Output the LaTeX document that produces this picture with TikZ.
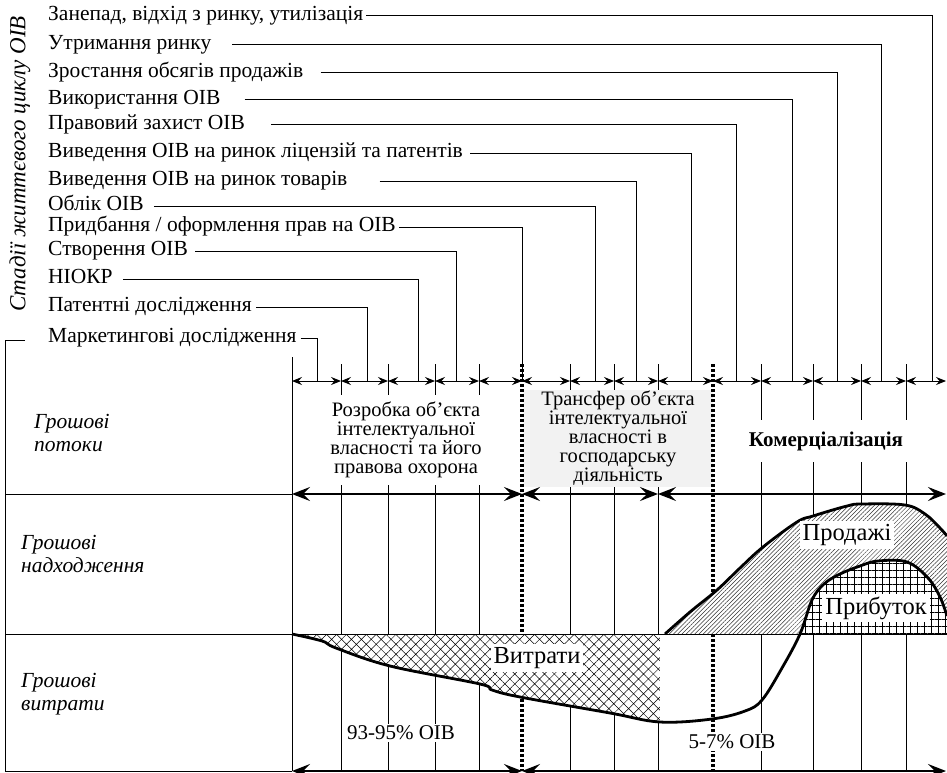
\documentclass[tikz,border=0pt]{standalone}
\usepackage{fontspec}
\setmainfont{Liberation Serif}
\usetikzlibrary{arrows.meta,patterns.meta}

\begin{document}
\begin{tikzpicture}[x=1pt,y=-1pt,
  grid/.style={line width=1pt},
  stage/.style={anchor=west,inner sep=0pt,text height=14pt,text depth=4.5pt,font=\fontsize{21.5}{24}\selectfont},
  rowlbl/.style={anchor=west,align=left,inner sep=0pt,font=\fontsize{21.5}{23}\selectfont\itshape},
  phase/.style={align=center,inner sep=0pt,font=\fontsize{20.5}{19}\selectfont},
  tag/.style={fill=white,inner sep=3pt,font=\fontsize{24.5}{27}\selectfont},
  share/.style={fill=white,inner sep=2pt,font=\fontsize{21}{23}\selectfont},
  dimsmall/.style={line width=1pt,<->,>={Stealth[length=10pt,width=8pt,inset=3.5pt]}},
  dimbig/.style={line width=1.5pt,<->,>={Stealth[length=18pt,width=14pt,inset=7pt]}},
  divider/.style={line width=3.2pt,dash pattern=on 3pt off 2pt},
  curve/.style={line width=2.8pt,line join=round},
  costfill/.style={preaction={fill=white},pattern={Hatch[angle=45,distance=7pt,line width=0.5pt]}},
  salesfill/.style={preaction={fill=white},pattern={Lines[angle=45,distance=3pt,line width=0.5pt]},pattern color=black!80},
  profitfill/.style={preaction={fill=white},pattern={Hatch[angle=0,distance=7pt,line width=0.6pt]}}]
\useasboundingbox (0,0) rectangle (947,773);

\node[rotate=90,inner sep=0pt,font=\fontsize{23}{25}\selectfont\itshape] (stages) at (20,164) {Стадії життєвого циклу ОІВ};

\foreach \n/\t/\y/\x/\g in {
  z/{Занепад, відхід з ринку, утилізація}/16/932/3,
  u/{Утримання ринку}/45/881/21,
  zr/{Зростання обсягів продажів}/73/837/17,
  vk/{Використання ОІВ}/100/792/24,
  pz/{Правовий захист ОІВ}/125/736/26,
  vl/{Виведення ОІВ на ринок ліцензій та патентів}/153/691/7,
  vt/{Виведення ОІВ на ринок товарів}/181/636/32,
  ob/{Облік ОІВ}/206/595/10,
  pr/{Придбання / оформлення прав на ОІВ}/227/522/3,
  st/{Створення ОІВ}/251/456/7,
  ni/{НІОКР}/279/418/10,
  pt/{Патентні дослідження}/307/367/4,
  mk/{Маркетингові дослідження}/338/317/4}{
  \node[stage] (\n) at (48,\y) {\t};
  \coordinate (c\n) at (\x,381);
  \draw[grid] ([xshift=\g pt]\n.east) -| (c\n);
}

\foreach \x in {341,388,435,479,570,614,658,761,813,861,906}
  \draw[grid] (\x,364) -- (\x,771);
\draw[grid] (292,357) -- (292,771);
\draw[grid] (25,340) -- (5,340) -- (5,771) -- (292,771);
\draw[grid] (5,494) -- (292,494);

\node[phase,fill=white,minimum width=215,minimum height=90] (dev) at (406,440)
  {Розробка об’єкта\\інтелектуальної\\власності та його\\правова охорона};
\node[phase,fill=gray!10,minimum width=190,minimum height=97] (trans) at (618,438.5)
  {Трансфер об’єкта\\інтелектуальної\\власності в\\господарську\\діяльність};
\node[fill=white,inner sep=0pt,minimum width=172,minimum height=42,font=\fontsize{21}{23}\selectfont\bfseries] (comm) at (826,441) {Комерціалізація};

\draw[divider] (522,364) -- (522,771);
\draw[divider] (713,364) -- (713,771);

\path[costfill] plot[smooth,tension=0.6] coordinates {(292,634) (322,641) (336,648) (390,666) (480,684) (492,690) (520,697) (610,713) (660,722)} -- (660,634) -- cycle;
\path[profitfill] plot[smooth,tension=0.6] coordinates {(800,634) (812,600) (824,584) (840,574) (860,566) (878,561) (907,562) (928,578) (940,597) (947,616)} -- (947,634) -- cycle;
\path[salesfill] plot[smooth,tension=0.6] coordinates {(665,634) (690,612) (717,590) (740,568) (763,547) (797,522) (813,516) (847,506) (862,504) (905,505) (925,514) (940,528) (947,536)}
  -- plot[smooth,tension=0.6] coordinates {(947,616) (940,597) (928,578) (907,562) (878,561) (860,566) (840,574) (824,584) (812,600) (800,634)} -- cycle;

\draw[grid] (5,634) -- (947,634);

\draw[curve] plot[smooth,tension=0.6] coordinates {(292,634) (322,641) (336,648) (390,666) (480,684) (492,690) (520,697) (610,713) (660,722) (712,719) (745,711) (762,700) (782,668) (800,634) (812,600) (824,584) (840,574) (860,566) (878,561) (907,562) (928,578) (940,597) (947,616)};
\draw[curve] plot[smooth,tension=0.6] coordinates {(665,634) (690,612) (717,590) (740,568) (763,547) (797,522) (813,516) (847,506) (862,504) (905,505) (925,514) (940,528) (947,536)};

\node[tag] (costs) at (537,658) {Витрати};
\node[tag] (sales) at (847,535) {Продажі};
\node[tag] (profit) at (876,608) {Прибуток};
\node[share] (big) at (401,733) {93-95\% ОІВ};
\node[share] (small) at (732,742) {5-7\% ОІВ};

\node[rowlbl] (flows) at (34,433) {Грошові\\потоки};
\node[rowlbl] (income) at (21,554) {Грошові\\надходження};
\node[rowlbl] (spend) at (21,694) {Грошові\\витрати};

\foreach \a/\b in {292/341,341/388,388/435,435/479,479/522,522/570,570/614,614/658,658/713,713/761,761/813,813/861,861/906,906/946}
  \draw[dimsmall] (\a,381) -- (\b,381);
\foreach \a/\b in {292/522,522/658,658/946}
  \draw[dimbig] (\a,494) -- (\b,494);
\foreach \a/\b in {292/522,522/946}
  \draw[dimbig] (\a,771) -- (\b,771);
\end{tikzpicture}
\end{document}
